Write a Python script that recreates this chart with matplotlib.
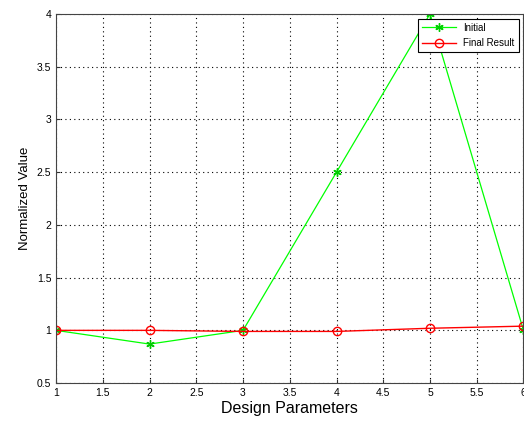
import numpy as np
import matplotlib
matplotlib.use("Agg")
import matplotlib.pyplot as plt

params = [1, 2, 3, 4, 5, 6]
initial = [1.0, 0.87, 1.0, 2.5, 4.0, 1.0]
final_result = [1.0, 1.0, 0.99, 0.99, 1.02, 1.04]

plt.rcParams['font.family'] = ['Liberation Sans', 'DejaVu Sans']

fig = plt.figure(figsize=(5.24, 4.21), dpi=100)
ax = fig.add_axes([0.107, 0.09, 0.892, 0.877])

# asterisk markers like the original matlab figure
ax.plot(params, initial, color='#00ff00', lw=0.9, marker=(6, 2, 0), ms=6,
        mew=1.0, mec='#00cc00', label='Initial')
ax.plot(params, final_result, color='#ff0000', lw=1.0, marker='o', ms=6,
        mfc='none', mec='#ff0000', label='Final Result')

ax.set_xlim(1, 6)
ax.set_ylim(0.5, 4)
ax.set_xticks(np.arange(1, 6.01, 0.5))
ax.set_yticks(np.arange(0.5, 4.01, 0.5))
ax.set_xticklabels(['1', '1.5', '2', '2.5', '3', '3.5', '4', '4.5', '5', '5.5', '6'])
ax.set_yticklabels(['0.5', '1', '1.5', '2', '2.5', '3', '3.5', '4'])
ax.tick_params(direction='in', labelsize=7.5, length=3, color='#333333')
ax.grid(True, linestyle=(0, (1, 3)), color='black', lw=0.8)
for s in ax.spines.values():
    s.set_color('#444444')

ax.set_xlabel('Design Parameters', fontsize=11.5, labelpad=2)
ax.set_ylabel('Normalized Value', fontsize=9.5)

leg = ax.legend(loc='upper right', fontsize=7, fancybox=False, framealpha=1,
                edgecolor='black', borderaxespad=0.5, handlelength=3.5,
                borderpad=0.4, labelspacing=0.6)
leg.get_frame().set_linewidth(0.8)

fig.savefig("out.png", dpi=100)
